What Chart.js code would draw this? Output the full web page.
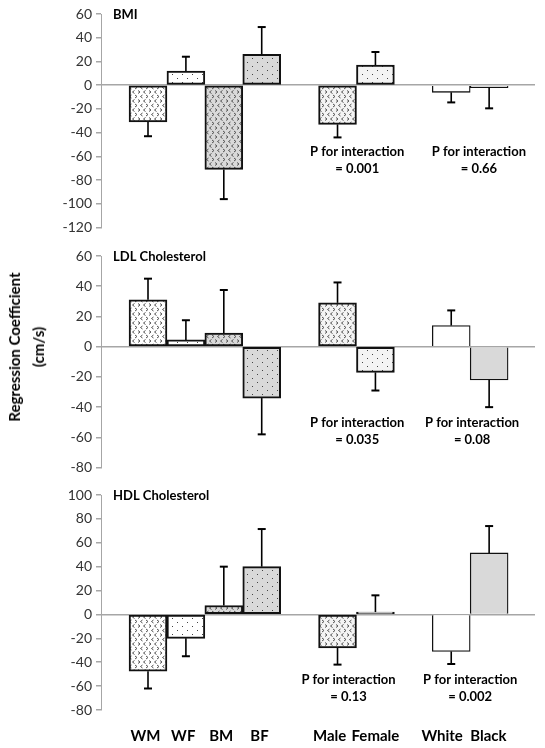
<!DOCTYPE html>
<html>
<head>
<meta charset="utf-8">
<script src="https://cdn.jsdelivr.net/npm/chart.js@4"></script>
<style>
  body { margin: 0; background: #fff; }
  #wrap { position: relative; width: 545px; height: 748px; }
  .panel { position: absolute; left: 0; width: 545px; }
  #yTitle {
    position: absolute; left: 26px; top: 347px;
    transform: translate(-50%, -50%) rotate(-90deg);
    font: bold 15px Lato, sans-serif; text-align: center; line-height: 24px;
    white-space: nowrap; color: #000;
  }
</style>
</head>
<body>
<div id="wrap">
  <div class="panel" style="top:0;height:240px"><canvas id="bmiChart"></canvas></div>
  <div class="panel" style="top:240px;height:240px"><canvas id="ldlChart"></canvas></div>
  <div class="panel" style="top:480px;height:268px"><canvas id="hdlChart"></canvas></div>
  <div id="yTitle">Regression Coefficient<br>(cm/s)</div>
</div>
<script>
// groups and their slots along the x axis (gaps at 5 and 8)
const groupLabels = ['WM', 'WF', 'BM', 'BF', 'Male', 'Female', 'White', 'Black'];
const groupSlots = [1, 2, 3, 4, 6, 7, 9, 10];
// where the group names sit (a little left of the bars, as in the source)
const labelSlots = [0.93, 1.93, 2.93, 3.94, 5.79, 7.0, 8.76, 9.98];

// BMI
const bmiValues = [-31, 12, -71, 26, -33, 17, -6, -2];
const bmiErrorEnds = [-43, 24, -96, 49, -44, 28, -14.5, -19.5];
// LDL Cholesterol
const ldlValues = [31, 4.5, 9, -34, 29, -17, 14, -22];
const ldlErrorEnds = [45, 17.5, 37.5, -58, 42.5, -29, 24, -40];
// HDL Cholesterol
const hdlValues = [-47.5, -20, 7.5, 40, -28, 2, -31, 51.5];
const hdlErrorEnds = [-62, -35, 40, 71.5, -42, 16, -41.5, 74];

const sexPValues = ['0.001', '0.035', '0.13'];
const racePValues = ['0.66', '0.08', '0.002'];

function makePattern(bg, kind) {
  const c = document.createElement('canvas');
  const g = c.getContext('2d');
  if (kind === 'chevron') {
    c.width = 11; c.height = 9;
    g.fillStyle = bg; g.fillRect(0, 0, 11, 9);
    g.strokeStyle = '#555'; g.lineWidth = 1;
    const lt = (x, y) => { g.beginPath(); g.moveTo(x + 2, y); g.lineTo(x, y + 1.5); g.lineTo(x + 2, y + 3); g.stroke(); };
    const gt = (x, y) => { g.beginPath(); g.moveTo(x, y); g.lineTo(x + 2, y + 1.5); g.lineTo(x, y + 3); g.stroke(); };
    lt(0.5, 0.5); gt(6, 0.5); gt(3, 5); lt(8.5, 5);
  } else if (kind === 'dots') {
    c.width = 10; c.height = 8;
    g.fillStyle = bg; g.fillRect(0, 0, 10, 8);
    g.fillStyle = '#444';
    g.fillRect(2, 2, 1, 1); g.fillRect(7, 6, 1, 1);
  } else {
    return bg;
  }
  return g.createPattern(c, 'repeat');
}

const barFills = [
  makePattern('#ffffff', 'chevron'),
  makePattern('#ffffff', 'dots'),
  makePattern('#d9d9d9', 'chevron'),
  makePattern('#d9d9d9', 'dots'),
  makePattern('#f4f4f4', 'chevron'),
  makePattern('#f4f4f4', 'dots'),
  '#ffffff',
  '#d9d9d9'
];
const barBorders = [2, 2, 2, 2, 2, 2, 1.3, 1.3];
const barSkip = [false, false, false, false, false, false, 'start', 'start'];

function overlayPlugin(errorEnds, title, notes) {
  return {
    id: 'overlay',
    afterDatasetsDraw(chart) {
      const ctx = chart.ctx;
      const ys = chart.scales.y;
      const xs = chart.scales.x;
      const meta = chart.getDatasetMeta(0);
      ctx.save();
      ctx.strokeStyle = '#000';
      meta.data.forEach((bar, i) => {
        const y1 = ys.getPixelForValue(errorEnds[i]);
        ctx.lineWidth = 1.6;
        ctx.beginPath();
        ctx.moveTo(bar.x, bar.y);
        ctx.lineTo(bar.x, y1);
        ctx.stroke();
        ctx.lineWidth = 2;
        ctx.beginPath();
        ctx.moveTo(bar.x - 4, y1);
        ctx.lineTo(bar.x + 4, y1);
        ctx.stroke();
      });
      ctx.fillStyle = '#000';
      ctx.textBaseline = 'middle';
      ctx.font = 'bold 13px Lato, sans-serif';
      ctx.textAlign = 'left';
      ctx.fillText(title, chart.chartArea.left + 12, chart.chartArea.top + 1);
      ctx.textAlign = 'center';
      notes.forEach(n => {
        const px = xs.getPixelForValue(n.x);
        ctx.fillText('P for interaction', px, ys.getPixelForValue(n.y));
        ctx.fillText('= ' + n.p, px, ys.getPixelForValue(n.y) + 17);
      });
      ctx.restore();
    }
  };
}

function renderPanel(id, values, errorEnds, yMin, yMax, padding, showX, title, notes) {
  new Chart(document.getElementById(id), {
    type: 'bar',
    data: {
      datasets: [{
        data: groupSlots.map((x, i) => ({ x: x, y: values[i] })),
        backgroundColor: barFills,
        borderColor: '#111',
        borderWidth: barBorders,
        borderSkipped: barSkip,
        barPercentage: 1,
        categoryPercentage: 1
      }]
    },
    options: {
      responsive: true,
      maintainAspectRatio: false,
      animation: false,
      layout: { padding: padding },
      plugins: { legend: { display: false }, tooltip: { enabled: false } },
      scales: {
        x: {
          type: 'linear',
          offset: false,
          min: -0.24,
          max: 11.21,
          display: showX,
          grid: { display: false, drawTicks: false, offset: false },
          border: { display: false },
          afterBuildTicks: axis => { axis.ticks = labelSlots.map(v => ({ value: v })); },
          afterFit: s => { if (showX) s.height = 34; },
          ticks: {
            autoSkip: false,
            maxRotation: 0,
            padding: 17,
            color: '#000',
            font: { family: 'Lato', size: 15, weight: 'bold' },
            callback: v => groupLabels[labelSlots.indexOf(v)] || ''
          }
        },
        y: {
          min: yMin,
          max: yMax,
          afterFit: s => { s.width = 101; },
          border: { color: '#a6a6a6', width: 1 },
          grid: {
            color: c => (c.tick && c.tick.value === 0 ? '#a6a6a6' : 'rgba(0,0,0,0)'),
            tickColor: '#a6a6a6',
            tickLength: 5,
            lineWidth: 1.5
          },
          ticks: {
            stepSize: 20,
            padding: 4,
            color: '#333',
            font: { family: 'Lato', size: 14 }
          }
        }
      }
    },
    plugins: [overlayPlugin(errorEnds, title, notes)]
  });
}

renderPanel('bmiChart', bmiValues, bmiErrorEnds, -120, 60,
  { top: 14, bottom: 12, left: 0, right: 10 }, false, 'BMI',
  [{ x: 6.52, y: -56.5, p: sexPValues[0] }, { x: 9.73, y: -56.5, p: racePValues[0] }]);

renderPanel('ldlChart', ldlValues, ldlErrorEnds, -80, 60,
  { top: 16, bottom: 10, left: 0, right: 10 }, false, 'LDL Cholesterol',
  [{ x: 6.52, y: -50.4, p: sexPValues[1] }, { x: 9.55, y: -50.4, p: racePValues[1] }]);

renderPanel('hdlChart', hdlValues, hdlErrorEnds, -80, 100,
  { top: 15, bottom: 4, left: 0, right: 10 }, true, 'HDL Cholesterol',
  [{ x: 6.29, y: -54.6, p: sexPValues[2] }, { x: 9.5, y: -54.6, p: racePValues[2] }]);
</script>
</body>
</html>
